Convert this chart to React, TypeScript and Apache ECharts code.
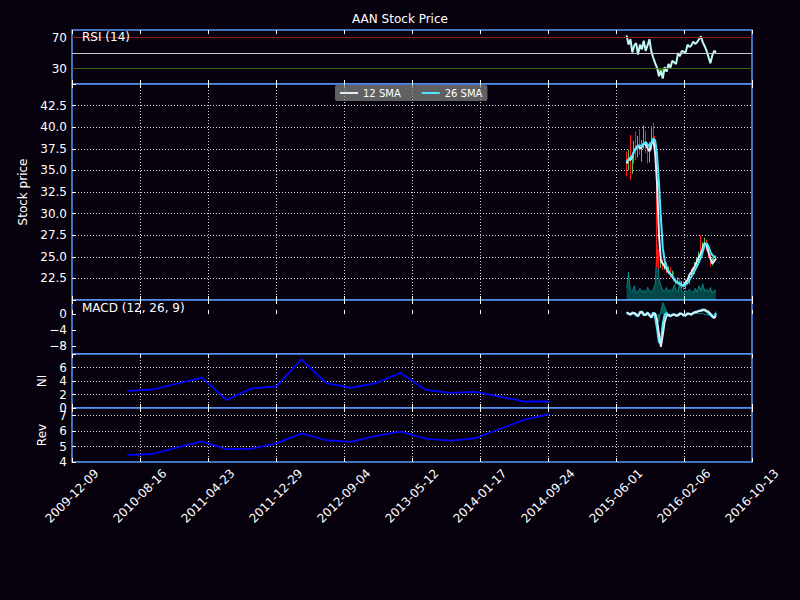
import React, { useEffect, useRef } from "react";
import * as echarts from "echarts";

const BG = "#07000d";
const SPINE = "#5998ff";
const FONT = "DejaVu Sans";

// ---- x axis: days since 2009-12-09, ticks every 250 days ----
const X_START = "2009-12-09";
const X_SPAN_DAYS = 2500;
const X_STEP_DAYS = 250;

// ---- stock data (weekly samples) ----
const stockDates = [
  "2015-07-10","2015-07-17","2015-07-24","2015-07-31","2015-08-07","2015-08-14","2015-08-21","2015-08-28",
  "2015-09-04","2015-09-11","2015-09-18","2015-09-25","2015-10-02","2015-10-09","2015-10-16","2015-10-23",
  "2015-10-30","2015-11-06","2015-11-13","2015-11-20","2015-11-27","2015-12-04","2015-12-11","2015-12-18",
  "2015-12-25","2016-01-01","2016-01-08","2016-01-15","2016-01-22","2016-01-29","2016-02-05","2016-02-12",
  "2016-02-19","2016-02-26","2016-03-04","2016-03-11","2016-03-18","2016-03-25","2016-04-01","2016-04-08",
  "2016-04-15","2016-04-22","2016-04-29","2016-05-06","2016-05-13","2016-05-20","2016-05-27","2016-06-03",
];

const rsi = [73,61,68,51,60,63,48,61,55,66,53,60,68,52,44,37,31,20,27,17,32,26,36,31,40,38,36,50,46,53,52,51,61,58,60,65,62,64,68,72,64,59,53,45,37,47,53,51];

const sma12 = [35.8,36.3,36.2,36.6,37.3,37.6,37.9,37.5,37.7,38.1,38.0,37.6,37.2,38.0,38.6,37.0,33.5,27.5,24.6,24.2,23.9,23.6,23.2,23.0,22.7,22.4,22.1,22.0,21.9,21.7,21.7,22.0,22.3,22.9,23.2,23.6,24.0,24.5,25.0,25.4,26.0,26.6,26.3,25.5,24.8,24.2,24.5,24.8];

const sma26 = [36.0,36.3,36.5,36.7,37.2,37.6,37.8,37.9,37.8,38.1,38.3,38.0,37.8,38.2,38.7,38.5,36.8,33.5,29.5,26.0,24.6,23.9,23.4,23.0,22.7,22.4,22.1,22.0,21.8,21.7,21.6,21.8,22.0,22.3,22.7,23.1,23.5,23.9,24.4,24.9,25.6,26.3,26.6,26.2,25.6,25.2,25.0,25.0];

// [open, close, low, high]
const ohlc = [
  [36.8,35.4,34.3,37.2],[35.4,36.9,35.0,37.4],[37.5,35.0,33.9,39.1],[35.0,36.2,34.6,36.8],
  [36.2,37.8,35.8,38.4],[37.8,36.9,36.2,39.5],[36.9,38.6,36.5,39.0],[38.6,37.2,36.8,39.8],
  [37.2,38.0,36.0,38.5],[38.0,39.1,37.5,40.2],[39.1,37.5,37.0,39.6],[37.5,36.4,35.8,38.2],
  [36.4,37.8,35.9,38.3],[37.8,39.2,37.4,40.1],[39.2,38.4,37.9,40.5],[38.4,37.6,36.9,39.0],
  [37.6,24.5,23.8,37.9],[24.8,24.0,23.6,25.9],[24.0,24.4,23.7,24.8],[24.4,23.8,23.5,24.7],
  [23.8,24.1,23.5,24.4],[24.1,23.4,23.1,24.3],[23.4,23.6,23.0,23.9],[23.6,22.9,22.6,23.8],
  [22.9,23.1,22.5,23.4],[23.1,22.4,22.1,23.3],[22.4,22.0,21.7,22.6],[22.0,22.3,21.8,22.6],
  [22.3,21.7,21.4,22.5],[21.7,21.9,21.4,22.2],[21.9,21.5,21.2,22.2],[21.5,22.1,21.3,22.4],
  [22.1,22.0,21.7,22.6],[22.0,22.8,21.8,23.1],[22.8,23.3,22.6,23.6],[23.3,23.2,22.9,23.8],
  [23.2,24.0,23.0,24.4],[24.0,24.6,23.8,24.9],[24.6,25.2,24.4,25.6],[26.0,25.6,25.2,27.5],
  [25.6,26.3,25.4,26.7],[26.3,26.8,26.0,27.2],[26.8,26.0,25.7,27.0],[26.0,25.2,24.9,26.2],
  [25.2,24.3,23.9,25.3],[24.3,24.6,24.0,24.9],[24.6,25.0,24.4,25.2],[25.0,24.8,24.5,25.2],
];

const volume = [1.3,3.1,1.1,0.9,1.6,0.8,1.0,1.3,0.9,1.1,0.8,1.4,1.0,0.9,1.2,1.8,6.2,2.4,1.6,1.1,1.0,1.4,0.9,1.2,1.0,1.7,1.1,0.9,2.2,1.0,0.8,1.1,0.9,1.2,1.0,0.8,1.3,0.9,1.6,1.1,1.8,1.0,1.2,0.9,1.4,0.8,1.1,1.0];

const macd = [0.3,0.1,-0.2,0.4,0.2,-0.3,-0.6,0.5,0.6,-0.3,-0.2,0.4,-0.4,-0.9,0.4,-0.8,-3.5,-7.0,-7.4,-2.5,-0.2,0.2,-0.3,-0.6,-0.2,-0.1,-0.5,-0.3,0.2,0.0,-0.4,-0.3,0.2,0.0,-0.2,0.3,0.5,0.6,0.8,0.9,1.1,0.9,0.6,0.3,-0.2,-0.7,-1.0,0.2];
const signal = [0.45,0.2,-0.1,0.1,0.3,0.0,-0.5,0.2,0.6,0.0,-0.3,0.2,-0.2,-0.9,0.0,0.2,-1.5,-5.0,-8.2,-5.4,-2.0,-0.5,-0.2,-0.5,-0.3,-0.1,-0.3,-0.4,0.0,0.1,-0.3,-0.4,0.0,0.1,-0.1,0.2,0.4,0.5,0.7,0.8,0.9,1.1,0.8,0.6,0.1,-0.5,-0.9,-0.5];

// ---- quarterly fundamentals (units of 1e8) ----
const quarterDates = ["2010-06-30","2010-09-30","2011-03-31","2011-06-30","2011-09-30","2011-12-31","2012-03-31","2012-06-30","2012-09-30","2012-12-31","2013-03-31","2013-06-30","2013-09-30","2013-12-31","2014-03-31","2014-06-30","2014-09-30"];
const netIncome = [2.55,2.74,4.5,1.2,2.9,3.2,7.2,3.7,3.0,3.7,5.2,2.7,2.25,2.4,1.7,0.96,0.96];
const revenue = [4.45,4.52,5.34,4.84,4.86,5.21,5.86,5.41,5.30,5.69,5.97,5.51,5.38,5.54,6.14,6.75,7.10];

const RSI_LEVELS = [70, 50, 30];

// ---- helpers ----
const toUTC = (s: string) => {
  const [y, m, d] = s.split("-").map(Number);
  return Date.UTC(y, m - 1, d);
};
const BASE = toUTC(X_START);
const dayOf = (s: string) => Math.round((toUTC(s) - BASE) / 86400000);
const fmtDay = (v: number) => new Date(BASE + v * 86400000).toISOString().slice(0, 10);

const PANELS = [
  { top: 30, height: 54 },
  { top: 84, height: 216 },
  { top: 300, height: 54 },
  { top: 354, height: 54 },
  { top: 408, height: 54 },
];

const dotted = { color: "rgba(255,255,255,0.85)", width: 1, type: [1, 2] as number[] };

function buildOption() {
  const sx = stockDates.map(dayOf);
  const qx = quarterDates.map(dayOf);
  const pts = (xs: number[], ys: number[]) => xs.map((x, i) => [x, ys[i]]);

  const grids = PANELS.map((p) => ({
    show: true,
    left: 72,
    width: 680,
    top: p.top,
    height: p.height,
    backgroundColor: BG,
    borderColor: SPINE,
    borderWidth: 1.5,
    containLabel: false,
  }));

  const xBase = {
    type: "value",
    min: 0,
    max: X_SPAN_DAYS,
    interval: X_STEP_DAYS,
    axisLine: { show: false },
  };
  const xAxes: any[] = [];
  PANELS.forEach((_, i) => {
    xAxes.push({
      ...xBase,
      gridIndex: i,
      position: "bottom",
      axisTick: { show: true, inside: true, length: 4, lineStyle: { color: "#fff" } },
      axisLabel: {
        show: i === 4,
        color: "#fff",
        fontSize: 12,
        fontFamily: FONT,
        rotate: 45,
        align: "center",
        verticalAlign: "middle",
        margin: 34,
        formatter: (v: number) => fmtDay(v),
      },
      splitLine: {
        show: i === 1 || i === 3 || i === 4,
        showMinLine: false,
        showMaxLine: false,
        lineStyle: dotted,
      },
    });
  });
  PANELS.forEach((_, i) => {
    xAxes.push({
      ...xBase,
      gridIndex: i,
      position: "top",
      axisTick: { show: true, inside: true, length: 4, lineStyle: { color: "#fff" } },
      axisLabel: { show: false },
      splitLine: { show: false },
    });
  });

  const yLabel = { color: "#fff", fontSize: 12, fontFamily: FONT, margin: 5 };
  const yTick = { show: true, inside: true, length: 4, lineStyle: { color: "#fff" } };
  const yName = { color: "#fff", fontSize: 12, fontFamily: FONT };
  const yAxes: any[] = [
    {
      type: "value", gridIndex: 0, min: 10, max: 80, interval: 20,
      axisLine: { show: false },
      axisTick: { ...yTick, customValues: [30, 70] },
      axisLabel: { ...yLabel, customValues: [30, 70], formatter: (v: number) => (v === 30 || v === 70 ? String(v) : "") },
      splitLine: { show: false },
    },
    {
      type: "value", gridIndex: 1, min: 20, max: 45, interval: 2.5,
      name: "Stock price", nameLocation: "middle", nameRotate: 90, nameGap: 34, nameTextStyle: yName,
      axisLine: { show: false },
      axisTick: yTick,
      axisLabel: { ...yLabel, formatter: (v: number) => (v > 20 && v < 45 ? v.toFixed(1) : "") },
      splitLine: { show: true, showMinLine: false, showMaxLine: false, lineStyle: dotted },
    },
    {
      type: "value", gridIndex: 2, min: -10, max: 3.5, interval: 2,
      axisLine: { show: false },
      axisTick: { ...yTick, customValues: [-8, -4, 0] },
      axisLabel: {
        ...yLabel,
        customValues: [-8, -4, 0],
        formatter: (v: number) => (v === 0 || v === -4 || v === -8 ? String(v).replace("-", "\u2212") : ""),
      },
      splitLine: { show: false },
    },
    {
      type: "value", gridIndex: 3, min: 0, max: 8, interval: 2,
      name: "NI", nameLocation: "middle", nameRotate: 90, nameGap: 15, nameTextStyle: yName,
      axisLine: { show: false },
      axisTick: yTick,
      axisLabel: { ...yLabel, formatter: (v: number) => (v < 8 ? String(v) : "") },
      splitLine: { show: true, showMinLine: false, showMaxLine: false, lineStyle: dotted },
    },
    {
      type: "value", gridIndex: 4, min: 4, max: 7.5, interval: 1,
      name: "Rev", nameLocation: "middle", nameRotate: 90, nameGap: 15, nameTextStyle: yName,
      axisLine: { show: false },
      axisTick: yTick,
      axisLabel: { ...yLabel, formatter: (v: number) => (Number.isInteger(v) ? String(v) : "") },
      splitLine: { show: true, showMinLine: false, showMaxLine: false, lineStyle: dotted },
    },
    { type: "value", gridIndex: 1, min: 0, max: 24, show: false },
  ];

  const rsiLow = rsi.map((v) => Math.min(v, 30));
  const rsiHigh = rsi.map((v) => Math.max(v, 70));
  const hist = macd.map((v, i) => +(v - signal[i]).toFixed(2));

  const series: any[] = [
    // RSI
    {
      type: "line", xAxisIndex: 0, yAxisIndex: 0, data: pts(sx, rsiLow), symbol: "none",
      lineStyle: { width: 0, opacity: 0 }, areaStyle: { color: "#386d13", opacity: 1, origin: 30 }, z: 3, silent: true,
    },
    {
      type: "line", xAxisIndex: 0, yAxisIndex: 0, data: pts(sx, rsiHigh), symbol: "none",
      lineStyle: { width: 0, opacity: 0 }, areaStyle: { color: "#8f2020", opacity: 1, origin: 70 }, z: 3, silent: true,
    },
    {
      type: "line", name: "RSI", xAxisIndex: 0, yAxisIndex: 0, data: pts(sx, rsi), symbol: "none",
      lineStyle: { color: "#c1f9f7", width: 2 }, z: 4,
      markLine: {
        silent: true, symbol: ["none", "none"], label: { show: false },
        data: RSI_LEVELS.map((lv) => ({
          yAxis: lv,
          lineStyle: { type: "solid", width: 1, color: lv === 70 ? "#8f2020" : lv === 30 ? "#386d13" : "#c8c8c8" },
        })),
      },
    },
    // volume
    {
      type: "line", xAxisIndex: 1, yAxisIndex: 5, data: pts(sx, volume), symbol: "none",
      lineStyle: { color: "rgba(0,255,232,0.4)", width: 1 },
      areaStyle: { color: "rgba(0,255,232,0.4)" }, z: 2, silent: true,
    },
    // candles
    {
      type: "candlestick", xAxisIndex: 1, yAxisIndex: 1,
      data: sx.map((x, i) => [x, ...ohlc[i]]),
      encode: { x: 0, y: [1, 2, 3, 4] },
      barWidth: 1,
      itemStyle: { color: "#53c156", color0: "#ff1717", borderColor: "#53c156", borderColor0: "#ff1717", borderWidth: 1 },
      z: 3,
    },
    {
      type: "line", name: "12 SMA", color: "#e1edf9", xAxisIndex: 1, yAxisIndex: 1, data: pts(sx, sma12), symbol: "none",
      lineStyle: { color: "#e1edf9", width: 2 }, z: 5,
    },
    {
      type: "line", name: "26 SMA", color: "#4ee6fd", xAxisIndex: 1, yAxisIndex: 1, data: pts(sx, sma26), symbol: "none",
      lineStyle: { color: "#4ee6fd", width: 2 }, z: 5,
    },
    // MACD
    {
      type: "line", xAxisIndex: 2, yAxisIndex: 2, data: pts(sx, hist), symbol: "none",
      lineStyle: { color: "rgba(0,255,232,0.5)", width: 0.8 },
      areaStyle: { color: "rgba(0,255,232,0.5)" }, z: 2, silent: true,
    },
    {
      type: "line", xAxisIndex: 2, yAxisIndex: 2, data: pts(sx, macd), symbol: "none",
      lineStyle: { color: "#4ee6fd", width: 2.2 }, z: 3,
    },
    {
      type: "line", xAxisIndex: 2, yAxisIndex: 2, data: pts(sx, signal), symbol: "none",
      lineStyle: { color: "#e1edf9", width: 1.8 }, z: 4,
    },
    // NI & Rev
    {
      type: "line", xAxisIndex: 3, yAxisIndex: 3, data: pts(qx, netIncome), symbol: "none",
      lineStyle: { color: "#0000ff", width: 1.8 },
    },
    {
      type: "line", xAxisIndex: 4, yAxisIndex: 4, data: pts(qx, revenue), symbol: "none",
      lineStyle: { color: "#0000ff", width: 1.8 },
    },
  ];

  return {
    animation: false,
    backgroundColor: BG,
    textStyle: { fontFamily: FONT },
    title: {
      text: "AAN Stock Price",
      left: "center",
      top: 8,
      textStyle: { color: "#fff", fontSize: 12, fontWeight: "normal", fontFamily: FONT },
    },
    legend: {
      data: ["12 SMA", "26 SMA"],
      left: 335,
      top: 85,
      padding: [3, 5],
      itemGap: 21,
      itemWidth: 18,
      itemHeight: 2,
      icon: "rect",
      backgroundColor: "rgba(128,128,128,0.75)",
      borderRadius: 2,
      textStyle: { color: "#fff", fontSize: 10, fontFamily: FONT },
      selectedMode: false,
    },
    grid: grids,
    xAxis: xAxes,
    yAxis: yAxes,
    series,
    graphic: [
      { type: "text", left: 82, top: 31, style: { text: "RSI (14)", fill: "#fff", fontSize: 12, fontFamily: FONT }, z: 100 },
      { type: "text", left: 82, top: 302, style: { text: "MACD (12, 26, 9)", fill: "#fff", fontSize: 12, fontFamily: FONT }, z: 100 },
      { type: "text", left: 72, top: 394, style: { text: "1e8", fill: "#000", fontSize: 12, fontFamily: FONT }, z: 1 },
    ],
  };
}

export default function App() {
  const ref = useRef<HTMLDivElement>(null);
  useEffect(() => {
    document.body.style.margin = "0";
    document.body.style.background = BG;
    const chart = echarts.init(ref.current!, null, { renderer: "svg" });
    chart.setOption(buildOption() as any);
    return () => chart.dispose();
  }, []);
  return <div ref={ref} style={{ width: 800, height: 600, background: BG }} />;
}
